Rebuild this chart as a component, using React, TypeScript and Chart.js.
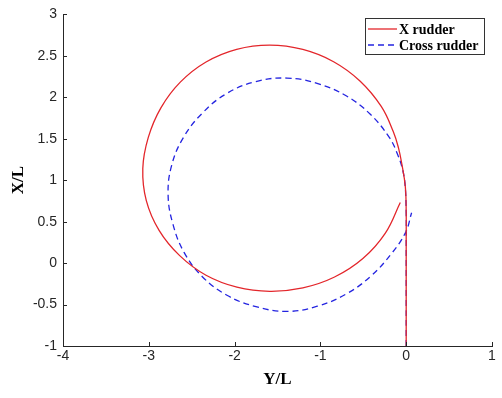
import React, { useEffect, useRef } from "react";
import { Chart, registerables } from "chart.js";

Chart.register(...registerables);

// X rudder trajectory: lateral Y/L and advance X/L
const redY = [0, 0, 0, 0, -0.01, -0.05, -0.09, -0.151, -0.291, -0.536, -0.846, -1.205, -1.59, -1.976, -2.333, -2.633, -2.859, -3.005, -3.07, -3.029, -2.88, -2.64, -2.333, -1.973, -1.59, -1.204, -0.835, -0.505, -0.243, -0.069];
const redX = [-1, -0.3, 0.3, 0.6, 0.92, 1.19, 1.39, 1.587, 1.89, 2.194, 2.429, 2.577, 2.63, 2.579, 2.426, 2.183, 1.873, 1.519, 1.14, 0.754, 0.395, 0.09, -0.146, -0.29, -0.34, -0.299, -0.168, 0.055, 0.362, 0.732];

// Cross rudder trajectory: lateral Y/L and advance X/L
const blueY = [0, 0, 0, 0, -0.012, -0.04, -0.1, -0.195, -0.418, -0.7, -1.03, -1.39, -1.756, -2.095, -2.376, -2.595, -2.733, -2.775, -2.718, -2.589, -2.376, -2.089, -1.751, -1.39, -1.036, -0.7, -0.411, -0.169, -0.006, 0.063];
const blueX = [-1, -0.3, 0.3, 0.6, 0.93, 1.12, 1.31, 1.513, 1.795, 2.018, 2.165, 2.232, 2.189, 2.044, 1.809, 1.518, 1.182, 0.8225, 0.467, 0.13, -0.164, -0.388, -0.525, -0.583, -0.52, -0.373, -0.157, 0.118, 0.373, 0.608];

const seriesNames = ["X rudder", "Cross rudder"];
const xTicks = [-4, -3, -2, -1, 0, 1];
const yTicks = [-1, -0.5, 0, 0.5, 1, 1.5, 2, 2.5, 3];

const RED = "#e3262b";
const BLUE = "#2424e0";
const AXIS = "#262626";

const toPts = (xs: number[], ys: number[]) => xs.map((x, i) => ({ x, y: ys[i] }));

const overlayPlugin = {
  id: "overlay",
  afterDraw(chart: any) {
    const { ctx, chartArea, scales } = chart;
    ctx.save();
    ctx.strokeStyle = AXIS;
    ctx.lineWidth = 1;
    ctx.beginPath();
    xTicks.forEach((v) => {
      const px = Math.round(scales.x.getPixelForValue(v)) + 0.5;
      ctx.moveTo(px, chartArea.bottom);
      ctx.lineTo(px, chartArea.bottom - 4);
    });
    yTicks.forEach((v) => {
      const py = Math.round(scales.y.getPixelForValue(v)) + 0.5;
      ctx.moveTo(chartArea.left, py);
      ctx.lineTo(chartArea.left + 4, py);
    });
    ctx.stroke();

    const bx = 365.5, by = 18.5, bw = 119, bh = 36;
    ctx.fillStyle = "#ffffff";
    ctx.fillRect(bx, by, bw, bh);
    ctx.strokeStyle = "#333333";
    ctx.lineWidth = 1;
    ctx.strokeRect(bx, by, bw, bh);
    const rows = [29, 45];
    const colors = [RED, BLUE];
    const dashes = [[], [6, 4]];
    rows.forEach((ry, i) => {
      ctx.strokeStyle = colors[i];
      ctx.lineWidth = 1.3;
      ctx.setLineDash(dashes[i]);
      ctx.beginPath();
      ctx.moveTo(368, ry);
      ctx.lineTo(397, ry);
      ctx.stroke();
      ctx.setLineDash([]);
      ctx.fillStyle = "#000000";
      ctx.font = 'bold 14px "Liberation Serif", "Times New Roman", serif';
      ctx.textBaseline = "middle";
      ctx.textAlign = "left";
      ctx.fillText(seriesNames[i], 399, ry + 1);
    });
    ctx.restore();
  },
};

export default function App() {
  const canvasRef = useRef<HTMLCanvasElement | null>(null);

  useEffect(() => {
    document.body.style.margin = "0";
    const canvas = canvasRef.current;
    if (!canvas) return;
    const chart = new Chart(canvas, {
      type: "scatter",
      data: {
        datasets: [
          {
            label: seriesNames[0],
            data: toPts(redY, redX),
            showLine: true,
            borderColor: RED,
            borderWidth: 1.3,
            pointRadius: 0,
            tension: 0.4,
            fill: false,
          },
          {
            label: seriesNames[1],
            data: toPts(blueY, blueX),
            showLine: true,
            borderColor: BLUE,
            borderWidth: 1.3,
            borderDash: [6, 4],
            pointRadius: 0,
            tension: 0.4,
            fill: false,
          },
        ],
      },
      options: {
        animation: false,
        responsive: false,
        layout: { padding: { top: 12, right: 10, left: 0, bottom: 0 } },
        plugins: {
          legend: { display: false },
          tooltip: { enabled: false },
        },
        scales: {
          x: {
            type: "linear",
            min: -4,
            max: 1,
            afterBuildTicks: (s: any) => {
              s.ticks = xTicks.map((v) => ({ value: v }));
            },
            afterFit: (s: any) => {
              s.height = 52;
            },
            grid: { display: false, tickLength: 0 },
            border: { display: true, color: AXIS, width: 1 },
            ticks: {
              color: AXIS,
              padding: 2,
              font: { family: '"Liberation Sans", Arial, sans-serif', size: 14 },
              callback: (v: any) => String(v),
              maxRotation: 0,
            },
            title: {
              display: true,
              text: "Y/L",
              color: "#000000",
              font: { family: '"Liberation Serif", "Times New Roman", serif', size: 17, weight: "bold" },
              padding: { top: 0, bottom: 8 },
            },
          },
          y: {
            type: "linear",
            min: -1,
            max: 3,
            afterBuildTicks: (s: any) => {
              s.ticks = yTicks.map((v) => ({ value: v }));
            },
            afterFit: (s: any) => {
              s.width = 63;
            },
            grid: { display: false, tickLength: 0 },
            border: { display: true, color: AXIS, width: 1 },
            ticks: {
              color: AXIS,
              padding: 6,
              font: { family: '"Liberation Sans", Arial, sans-serif', size: 14 },
              callback: (v: any) => String(v),
            },
            title: {
              display: true,
              text: "X/L",
              color: "#000000",
              font: { family: '"Liberation Serif", "Times New Roman", serif', size: 17, weight: "bold" },
              padding: { top: 8, bottom: 0 },
            },
          },
        },
      },
      plugins: [overlayPlugin],
    });
    return () => chart.destroy();
  }, []);

  return (
    <div style={{ width: 502, height: 398, position: "relative", background: "#fff" }}>
      <canvas ref={canvasRef} width={502} height={398} style={{ display: "block" }} />
    </div>
  );
}
